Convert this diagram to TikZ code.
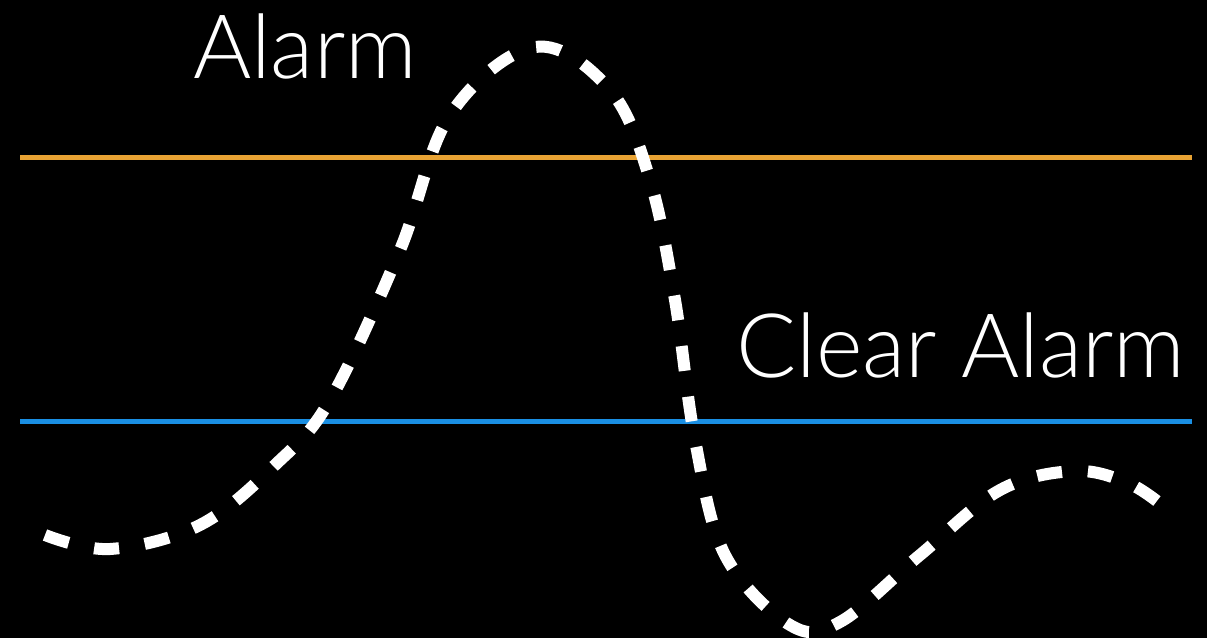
\documentclass[tikz,border=0pt]{standalone}
\usepackage{fontspec}
\newfontfamily\lightfont{Lato Light}
\usetikzlibrary{positioning}
\definecolor{alarmorange}{RGB}{232,163,52}
\definecolor{clearblue}{RGB}{26,143,227}

\begin{document}
\begin{tikzpicture}[x=1pt, y=-1pt]
\tikzset{
  level/.style={line width=5pt},
  signal/.style={white, line width=12pt, dash pattern=on 25pt off 26pt},
  lbl/.style={text=white, inner sep=0pt, anchor=base west,
    font=\lightfont\fontsize{89}{100}\selectfont},
}

% ---- background ----
\fill[black] (0,0) rectangle (1207,638);
\useasboundingbox (0,0) rectangle (1207,638);

% ---- thresholds ----
\coordinate (alarmL) at (20,157);
\coordinate (alarmR) at (1192,157);
\coordinate (clearL) at (20,421);
\coordinate (clearR) at (1192,421);
\draw[level, alarmorange] (alarmL) -- (alarmR);
\draw[level, clearblue] (clearL) -- (clearR);

% ---- signal ----
\draw[signal] plot[smooth, tension=0.6] coordinates {
  (45,535) (110,549) (200,525) (275,465) (330,400) (400,250) (450,115)
  (535,47) (610,90) (650,180) (675,300) (695,440) (725,555) (790,625)
  (840,622) (920,555) (1000,490) (1075,471) (1130,484) (1168,510)};

% ---- labels ----
\node[lbl] (alarm) at (193,78) {Alarm};
\node[lbl] (clear) at (736,377) {Clear Alarm};

\end{tikzpicture}
\end{document}
